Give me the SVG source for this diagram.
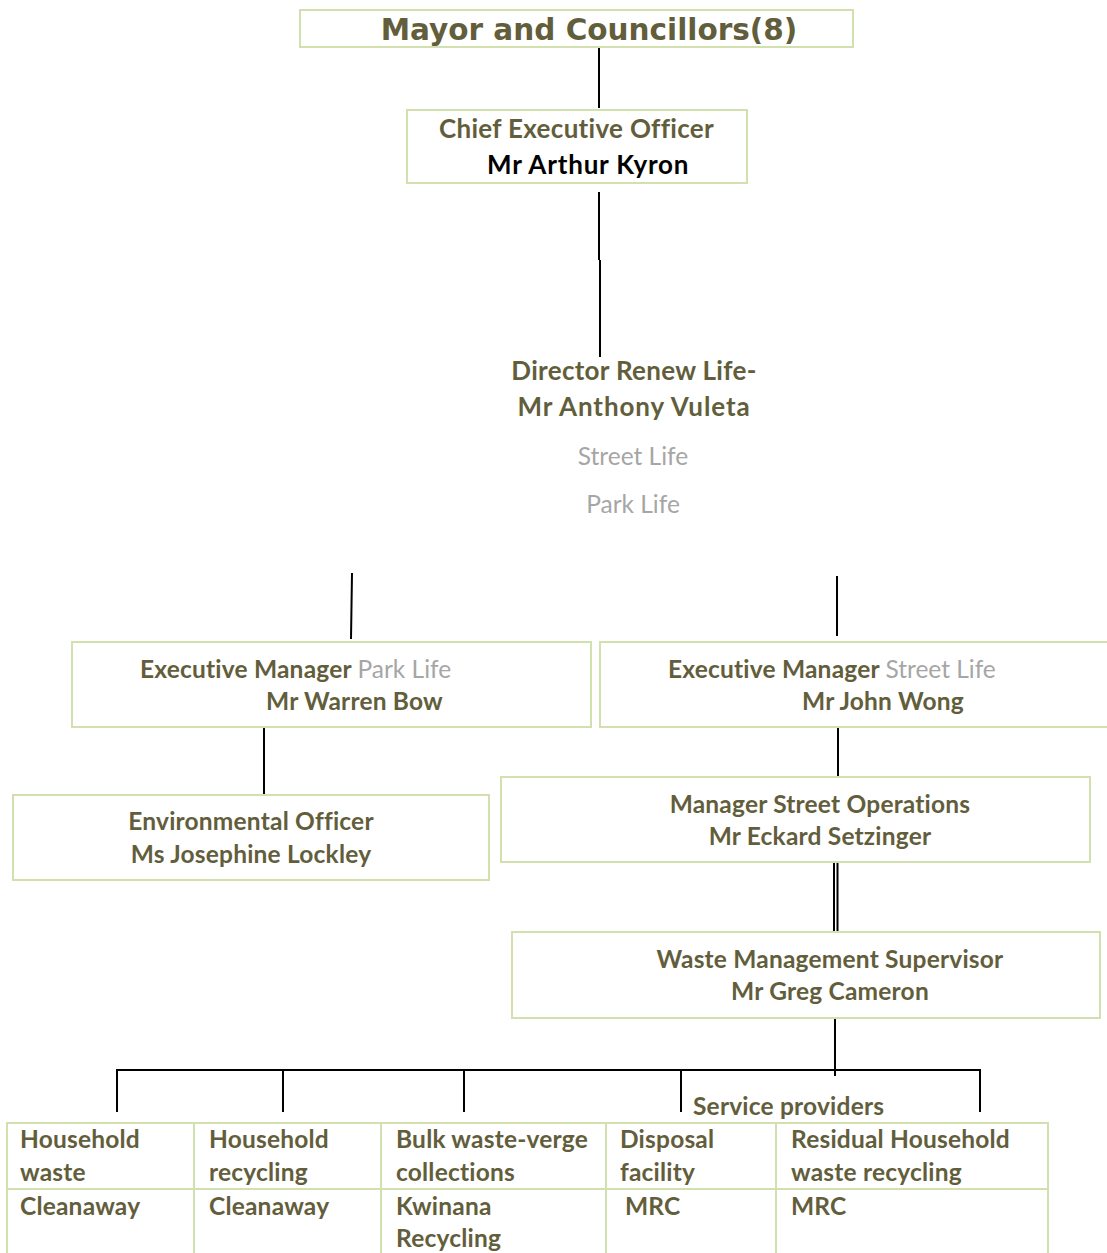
<svg xmlns="http://www.w3.org/2000/svg" width="1107" height="1253" viewBox="0 0 1107 1253">
<style>
.box{fill:#fff;stroke:#d2e0b0;stroke-width:2}
.t{font-family:Lato,"Open Sans","Liberation Sans",sans-serif;font-weight:bold;font-size:24.5px;letter-spacing:0.2px;fill:#625e3c}
.b{font-size:26px;letter-spacing:0.3px}
.g{fill:#a6a6a6;font-weight:normal;font-size:24.5px;letter-spacing:0}
.k{fill:#000}
.c{stroke:#000;stroke-width:2;fill:none}
.grid{stroke:#d2e0b0;stroke-width:2;fill:none}
</style>
<rect width="1107" height="1253" fill="#fff"/>
<g id="connectors">
<line class="c" x1="599" y1="48" x2="599" y2="108"/>
<line class="c" x1="599" y1="192" x2="599" y2="260"/>
<line class="c" x1="600" y1="260" x2="600" y2="357"/>
<line class="c" x1="352" y1="573" x2="351" y2="639"/>
<line class="c" x1="837" y1="576" x2="837" y2="636"/>
<line class="c" x1="264" y1="728" x2="264" y2="798"/>
<line class="c" x1="838" y1="717" x2="838" y2="780"/>
<line class="c" x1="834" y1="860" x2="834" y2="931" stroke-width="1.5"/>
<line class="c" x1="837.5" y1="860" x2="837.5" y2="931" stroke-width="1.5"/>
<line class="c" x1="835" y1="1018" x2="835" y2="1076"/>
<polyline class="c" points="117,1112 117,1070 980,1070 980,1112"/>
<line class="c" x1="283" y1="1070" x2="283" y2="1112"/>
<line class="c" x1="464" y1="1070" x2="464" y2="1112"/>
<line class="c" x1="681" y1="1070" x2="681" y2="1112"/>
</g>
<g id="mayor">
<rect class="box" x="300" y="10" width="553" height="37"/>
<text x="589" y="40" text-anchor="middle" style="font-family:'DejaVu Sans',Verdana,sans-serif;font-weight:bold;font-size:29.5px;fill:#625e3c">Mayor and Councillors(8)</text>
</g>
<g id="ceo">
<rect class="box" x="407" y="110" width="340" height="73"/>
<text class="t b" x="439" y="138">Chief Executive Officer</text>
<text class="t b k" x="487" y="174" style="letter-spacing:0.8px">Mr Arthur Kyron</text>
</g>
<g id="director">
<text class="t b" x="634" y="380" text-anchor="middle">Director Renew Life-</text>
<text class="t b" x="634" y="416" text-anchor="middle" style="letter-spacing:0.9px">Mr Anthony Vuleta</text>
<text class="t g" x="633" y="465" text-anchor="middle">Street Life</text>
<text class="t g" x="633" y="513" text-anchor="middle">Park Life</text>
</g>
<g id="em-park">
<rect class="box" x="72" y="642" width="519" height="85"/>
<text class="t" x="140" y="678">Executive Manager <tspan class="g">Park Life</tspan></text>
<text class="t" x="266" y="710">Mr Warren Bow</text>
</g>
<g id="em-street">
<rect class="box" x="600" y="642" width="520" height="85"/>
<text class="t" x="668" y="678">Executive Manager <tspan class="g">Street Life</tspan></text>
<text class="t" x="802" y="710">Mr John Wong</text>
</g>
<g id="env-officer">
<rect class="box" x="13" y="795" width="476" height="85"/>
<text class="t" x="251" y="830" text-anchor="middle">Environmental Officer</text>
<text class="t" x="251" y="863" text-anchor="middle">Ms Josephine Lockley</text>
</g>
<g id="mgr-street-ops">
<rect class="box" x="501" y="777" width="589" height="85"/>
<text class="t" x="820" y="813" text-anchor="middle">Manager Street Operations</text>
<text class="t" x="820" y="845" text-anchor="middle">Mr Eckard Setzinger</text>
</g>
<g id="waste-supervisor">
<rect class="box" x="512" y="932" width="588" height="86"/>
<text class="t" x="830" y="968" text-anchor="middle">Waste Management Supervisor</text>
<text class="t" x="830" y="1000" text-anchor="middle">Mr Greg Cameron</text>
</g>
<g id="service-providers">
<text class="t" x="693" y="1115">Service providers</text>
<path class="grid" d="M7,1254 V1123 H1048 V1254 M7,1189 H1048 M194,1123 V1254 M381,1123 V1254 M606,1123 V1254 M776,1123 V1254"/>
<text class="t" x="20" y="1148">Household</text>
<text class="t" x="20" y="1181">waste</text>
<text class="t" x="20" y="1215">Cleanaway</text>
<text class="t" x="209" y="1148">Household</text>
<text class="t" x="209" y="1181">recycling</text>
<text class="t" x="209" y="1215">Cleanaway</text>
<text class="t" x="396" y="1148">Bulk waste-verge</text>
<text class="t" x="396" y="1181">collections</text>
<text class="t" x="396" y="1215">Kwinana</text>
<text class="t" x="396" y="1247">Recycling</text>
<text class="t" x="620" y="1148">Disposal</text>
<text class="t" x="620" y="1181">facility</text>
<text class="t" x="625" y="1215">MRC</text>
<text class="t" x="791" y="1148">Residual Household</text>
<text class="t" x="791" y="1181">waste recycling</text>
<text class="t" x="791" y="1215">MRC</text>
</g>
</svg>
